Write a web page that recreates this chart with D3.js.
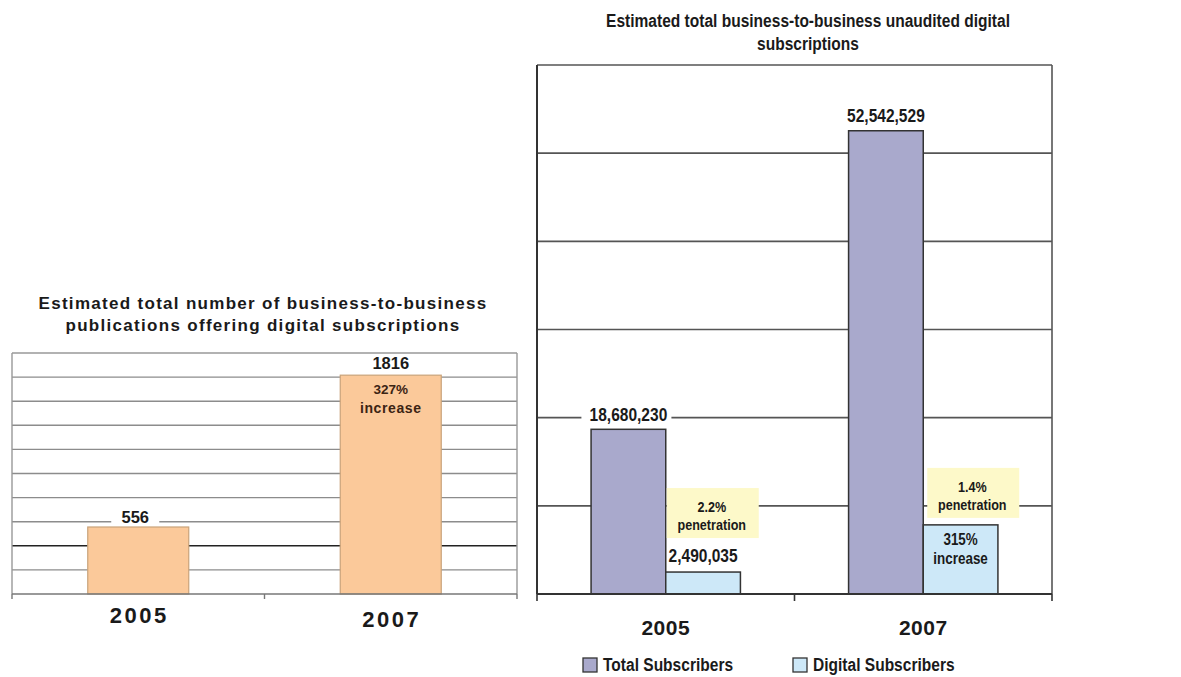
<!DOCTYPE html>
<html>
<head>
<meta charset="utf-8">
<script src="https://cdn.jsdelivr.net/npm/d3@7"></script>
<style>
body { margin: 0; background: #fff; }
text { font-family: "Liberation Sans", Arial, sans-serif; font-weight: bold; fill: #1a1a1a; }
</style>
</head>
<body>
<script>
// left chart data
const leftYears = ['2005', '2007'];
const leftCounts = [556, 1816];
const leftTitle = ['Estimated total number of business-to-business', 'publications offering digital subscriptions'];

// right chart data
const rightYears = ['2005', '2007'];
const seriesNames = ['Total Subscribers', 'Digital Subscribers'];
const totalSubs = [18680230, 52542529];
const digitalSubs = [2490035, 7840000];
const penetration = ['2.2%', '1.4%'];
const rightTitle = ['Estimated total business-to-business unaudited digital', 'subscriptions'];

const svg = d3.select('body').append('svg').attr('width', 1181).attr('height', 677);

// narrow bold text (like Arial Narrow) = squeezed Liberation Sans
function ntext(g, x, y, size, str, anchor) {
  return g.append('text')
    .attr('transform', `translate(${x},${y}) scale(0.84,1)`)
    .attr('text-anchor', anchor || 'middle')
    .style('font-size', size + 'px')
    .text(str);
}

// ---------- left chart ----------
const xL = d3.scaleBand().domain(leftYears).range([12, 517]).paddingInner(0.6).paddingOuter(0.3);
const yL = d3.scaleLinear().domain([0, 2000]).range([594, 353]);
const left = svg.append('g');

left.append('g').selectAll('line').data(yL.ticks(10).filter(d => d > 0))
  .join('line')
  .attr('x1', 12).attr('x2', 517)
  .attr('y1', d => yL(d)).attr('y2', d => yL(d))
  .style('stroke', d => d == 400 ? '#222' : (d == 2000 ? '#999' : '#8c8c8c'))
  .style('stroke-width', 1.4);
left.append('line').attr('x1', 12).attr('x2', 12).attr('y1', yL(2000)).attr('y2', yL(0)).style('stroke', '#999').style('stroke-width', 1.4);
left.append('line').attr('x1', 517).attr('x2', 517).attr('y1', yL(2000)).attr('y2', yL(0)).style('stroke', '#999').style('stroke-width', 1.4);

left.selectAll('rect.bar').data(leftCounts).join('rect').attr('class', 'bar')
  .attr('x', (d, i) => xL(leftYears[i])).attr('width', xL.bandwidth())
  .attr('y', d => yL(d)).attr('height', d => yL(0) - yL(d))
  .style('fill', '#fbc99a').style('stroke', '#c9a37a').style('stroke-width', 1.2);

// axis
left.append('line').attr('x1', 12).attr('x2', 517).attr('y1', yL(0)).attr('y2', yL(0)).style('stroke', '#777').style('stroke-width', 1.6);
[12, (xL(leftYears[0]) + xL.bandwidth() + xL(leftYears[1])) / 2, 517].forEach(x => {
  left.append('line').attr('x1', x).attr('x2', x).attr('y1', yL(0)).attr('y2', yL(0) + 5).style('stroke', '#777').style('stroke-width', 1.4);
});

// value labels
const c0 = xL(leftYears[0]) + xL.bandwidth() / 2;
const c1 = xL(leftYears[1]) + xL.bandwidth() / 2;
left.append('rect').attr('x', c0 - 27).attr('y', yL(leftCounts[0]) - 20).attr('width', 48).attr('height', 17).style('fill', '#fff');
left.append('text').attr('x', c0 - 3).attr('y', yL(leftCounts[0]) - 4).attr('text-anchor', 'middle').style('font-size', '16.5px').text(leftCounts[0]);
left.append('text').attr('x', c1).attr('y', yL(leftCounts[1]) - 6).attr('text-anchor', 'middle').style('font-size', '16.5px').text(leftCounts[1]);
left.append('text').attr('x', c1).attr('y', yL(leftCounts[1]) + 19).attr('text-anchor', 'middle').style('font-size', '13.5px').style('fill', '#3b2414').text('327%');
left.append('text').attr('x', c1).attr('y', yL(leftCounts[1]) + 38).attr('text-anchor', 'middle').style('font-size', '14px').style('letter-spacing', '0.6px').style('fill', '#3b2414').text('increase');

left.selectAll('text.year').data(leftYears).join('text').attr('class', 'year')
  .attr('x', d => xL(d) + xL.bandwidth() / 2 + 1).attr('y', (d, i) => 623 + i * 4)
  .attr('text-anchor', 'middle').style('font-size', '22px').style('letter-spacing', '2.5px').text(d => d);

left.selectAll('text.title').data(leftTitle).join('text').attr('class', 'title')
  .attr('x', 263).attr('y', (d, i) => 309 + i * 22)
  .attr('text-anchor', 'middle').style('font-size', '17px').style('letter-spacing', '1.3px').text(d => d);

// ---------- right chart ----------
const xR = d3.scaleBand().domain(rightYears).range([537, 1052]).paddingInner(0.42).paddingOuter(0.21);
const xS = d3.scaleBand().domain(seriesNames).range([0, xR.bandwidth()]);
const yR = d3.scaleLinear().domain([0, 60000000]).range([594, 65]);
const colors = ['#a9a9cc', '#cde8f8'];
const right = svg.append('g');

right.append('g').selectAll('line').data(yR.ticks(6).filter(d => d > 0))
  .join('line')
  .attr('x1', 537).attr('x2', 1052)
  .attr('y1', d => yR(d)).attr('y2', d => yR(d))
  .style('stroke', '#555').style('stroke-width', 1.6);
right.append('line').attr('x1', 1052).attr('x2', 1052).attr('y1', yR(60000000)).attr('y2', yR(0)).style('stroke', '#555').style('stroke-width', 1.6);
right.append('line').attr('x1', 537).attr('x2', 537).attr('y1', yR(60000000)).attr('y2', yR(0)).style('stroke', '#333').style('stroke-width', 2);

const groups = right.selectAll('g.grp').data(rightYears).join('g').attr('class', 'grp')
  .attr('transform', d => `translate(${xR(d)},0)`);
groups.selectAll('rect').data((d, i) => [totalSubs[i], digitalSubs[i]]).join('rect')
  .attr('x', (d, j) => xS(seriesNames[j])).attr('width', xS.bandwidth())
  .attr('y', d => yR(d)).attr('height', d => yR(0) - yR(d))
  .style('fill', (d, j) => colors[j]).style('stroke', '#333').style('stroke-width', 1.5);

right.append('line').attr('x1', 537).attr('x2', 1052).attr('y1', yR(0)).attr('y2', yR(0)).style('stroke', '#333').style('stroke-width', 2);
[537, (xR(rightYears[0]) + xR.bandwidth() + xR(rightYears[1])) / 2, 1052].forEach(x => {
  right.append('line').attr('x1', x).attr('x2', x).attr('y1', yR(0)).attr('y2', yR(0) + 7).style('stroke', '#333').style('stroke-width', 1.6);
});

const fmt = d3.format(',');
const tx0 = xR(rightYears[0]) + xS(seriesNames[0]) + xS.bandwidth() / 2;
const tx1 = xR(rightYears[1]) + xS(seriesNames[0]) + xS.bandwidth() / 2;
const dx0 = xR(rightYears[0]) + xS(seriesNames[1]) + xS.bandwidth() / 2;
const dx1 = xR(rightYears[1]) + xS(seriesNames[1]) + xS.bandwidth() / 2;

right.append('rect').attr('x', tx0 - 47).attr('y', yR(totalSubs[0]) - 24).attr('width', 90).attr('height', 20).style('fill', '#fff');
ntext(right, tx0, yR(totalSubs[0]) - 8, 18.5, fmt(totalSubs[0]));
ntext(right, tx1, yR(totalSubs[1]) - 9, 18.5, fmt(totalSubs[1]));
ntext(right, dx0, yR(digitalSubs[0]) - 10, 18.5, fmt(digitalSubs[0]));

// penetration boxes
const pen = [
  { x: xR(rightYears[0]) + xS(seriesNames[1]) + 1, bottom: yR(digitalSubs[0]) - 34 },
  { x: xR(rightYears[1]) + xS(seriesNames[1]) + 4, bottom: yR(digitalSubs[1]) - 7 }
];
pen.forEach((p, i) => {
  right.append('rect').attr('x', p.x).attr('y', p.bottom - 50).attr('width', 92).attr('height', 50).style('fill', '#fdf9c9');
  ntext(right, p.x + 45, p.bottom - 26, 15, penetration[i]);
  ntext(right, p.x + 45, p.bottom - 8, 15, 'penetration');
});

ntext(right, dx1, yR(digitalSubs[1]) + 20, 16, '315%');
ntext(right, dx1, yR(digitalSubs[1]) + 39, 16, 'increase');

right.selectAll('text.year').data(rightYears).join('text').attr('class', 'year')
  .attr('x', d => xR(d) + xR.bandwidth() / 2).attr('y', 635)
  .attr('text-anchor', 'middle').style('font-size', '21px').style('letter-spacing', '0.5px').text(d => d);

rightTitle.forEach((t, i) => ntext(right, 808, 27 + i * 23, 18.5, t));

// legend
const legX = [583, 793];
seriesNames.forEach((s, i) => {
  right.append('rect').attr('x', legX[i]).attr('y', 658).attr('width', 14).attr('height', 14)
    .style('fill', colors[i]).style('stroke', '#333').style('stroke-width', 1.3);
  ntext(right, legX[i] + 20, 671, 18.5, s, 'start');
});
</script>
</body>
</html>
